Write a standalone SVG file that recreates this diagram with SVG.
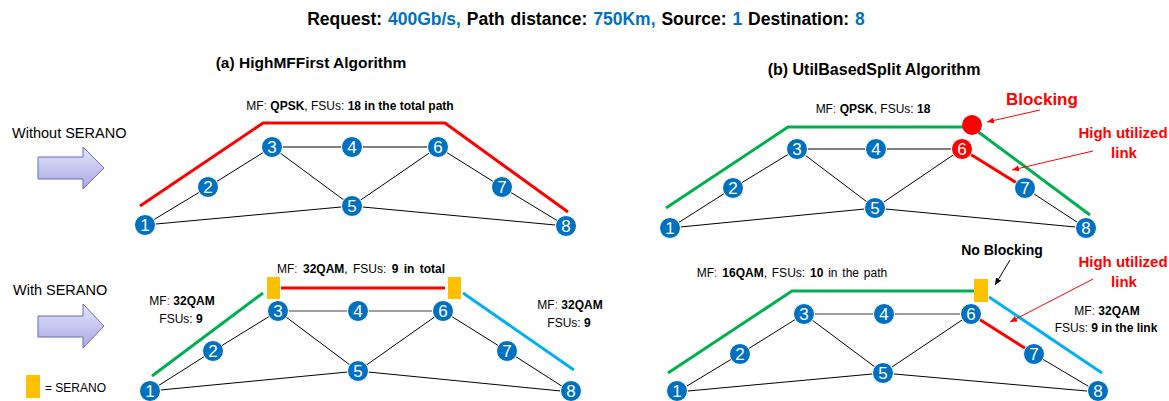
<svg xmlns="http://www.w3.org/2000/svg" width="1169" height="401" viewBox="0 0 1169 401">
<style>
text{font-family:"Liberation Sans",Arial,sans-serif;fill:#000}
.b{font-weight:bold}
.blue{fill:#0070c0}
.red{fill:#ff0000}
.t12{font-size:12px}
.edge{stroke:#000;stroke-width:1;fill:none}
.gray{stroke:#7f7f7f;stroke-width:1.5;fill:none}
.nd circle{fill:#0070c0;stroke:#fff;stroke-width:1}
.nd text{fill:#fff;font-size:17px;text-anchor:middle}
.pr{stroke:#ff0000;stroke-width:3;fill:none}
.pg{stroke:#00b050;stroke-width:3;fill:none}
.pb{stroke:#00b0f0;stroke-width:3;fill:none}
.ser{fill:#ffc000}
.mid{text-anchor:middle}
</style>
<defs>
<linearGradient id="ag" x1="0" y1="0" x2="0" y2="1">
<stop offset="0" stop-color="#e4e4fa"/>
<stop offset="1" stop-color="#a9a9e3"/>
</linearGradient>
<marker id="mr" markerWidth="8" markerHeight="8" refX="7" refY="4" orient="auto" markerUnits="userSpaceOnUse">
<path d="M0,1 L7,4 L0,7 z" fill="#ff0000"/>
</marker>
<marker id="mk" markerWidth="8" markerHeight="8" refX="7" refY="4" orient="auto" markerUnits="userSpaceOnUse">
<path d="M0,1 L7,4 L0,7 z" fill="#000"/>
</marker>
</defs>

<g id="titles">
<text x="586" y="25" class="b mid" font-size="17.5" word-spacing="1">Request: <tspan class="blue">400Gb/s,</tspan> Path distance: <tspan class="blue">750Km,</tspan> Source: <tspan class="blue">1</tspan> Destination: <tspan class="blue">8</tspan></text>
<text x="311" y="68" class="b mid" font-size="15.5">(a) HighMFFirst Algorithm</text>
<text x="874" y="75" class="b mid" font-size="16">(b) UtilBasedSplit Algorithm</text>
</g>

<g id="legend">
<text x="12" y="138" font-size="14.5">Without SERANO</text>
<polygon points="38,157 83,157 83,147 104,168 83,189 83,179 38,179" fill="url(#ag)" stroke="#6b6bb8" stroke-width="1"/>
<text x="13" y="295" font-size="14.5">With SERANO</text>
<polygon points="38,316 83,316 83,304 104,326 83,348 83,337 38,337" fill="url(#ag)" stroke="#6b6bb8" stroke-width="1"/>
<rect x="26" y="375" width="14" height="23" class="ser"/>
<text x="45" y="392" class="t12">= SERANO</text>
</g>

<g id="connectors">
<path class="edge" d="M145,225 L208,187 L272,147 L352,147 L438,147 L502,187 L566,226 M272,147 L352,206 L438,147 M145,225 L352,206 L566,226"/>
<path class="edge" d="M150,391 L213,351 L278,311 M443,311 L507,351 L571,392 M278,311 L358,371 L443,311 M150,391 L358,371 L571,392"/>
<path class="gray" d="M278,311 L443,311"/>
<path class="edge" d="M670,228 L733,188 L797,149 L876,149 L962,149 M1025,188 L1086,228 M797,149 L875,208 L962,149 M670,228 L875,208 L1086,228"/>
<path class="edge" d="M677,392 L740,354 L804,314 M1034,354 L1098,392 M804,314 L883,373 L971,314 M677,392 L883,373 L1098,392"/>
<path class="gray" d="M804,314 L971,314"/>

<path class="pr" d="M140,206 L263,123 L445,123 L568,212"/>
<path class="pg" d="M152,376 L263,293"/>
<path class="pr" d="M281,288 L445,288"/>
<path class="pb" d="M463,293 L574,370"/>
<path class="pg" d="M666,208 L788,127 L966,127"/>
<path class="pg" d="M977,131 L1090,215"/>
<path class="pr" d="M962,149 L1025,188"/>
<path class="pg" d="M668,373 L792,291 L975,291"/>
<path class="pb" d="M989,297 L1102,373"/>
<path class="pr" d="M971,314 L1034,354"/>

<line x1="1040" y1="110" x2="987" y2="122" stroke="#ff0000" stroke-width="1" marker-end="url(#mr)"/>
<line x1="1093" y1="151" x2="1012" y2="170" stroke="#ff0000" stroke-width="1" marker-end="url(#mr)"/>
<line x1="1010" y1="260" x2="995" y2="285" stroke="#000" stroke-width="1" marker-end="url(#mk)"/>
<line x1="1093" y1="279" x2="1010" y2="322" stroke="#ff0000" stroke-width="1" marker-end="url(#mr)"/>
</g>

<g id="serano">
<rect x="267" y="277" width="13" height="22" class="ser"/>
<rect x="448" y="277" width="13" height="22" class="ser"/>
<rect x="974" y="279" width="14" height="23" class="ser"/>
<circle id="blocking-point" cx="972" cy="125" r="10" fill="#ff0000"/>
</g>

<g id="labels">
<text x="350" y="110" class="t12 mid">MF<tspan class="red">:</tspan> <tspan class="b">QPSK</tspan>, FSUs: <tspan class="b">18 in the total path</tspan></text>
<text x="361" y="273" class="t12 mid" word-spacing="2">MF<tspan class="red">:</tspan> <tspan class="b">32QAM</tspan>, FSUs: <tspan class="b">9 in total</tspan></text>
<text x="182" y="305" class="t12 mid">MF<tspan class="red">:</tspan> <tspan class="b">32QAM</tspan></text>
<text x="181" y="323" class="t12 mid">FSUs: <tspan class="b">9</tspan></text>
<text x="570" y="309" class="t12 mid">MF<tspan class="red">:</tspan> <tspan class="b">32QAM</tspan></text>
<text x="569" y="327" class="t12 mid">FSUs: <tspan class="b">9</tspan></text>
<text x="873" y="113" class="t12 mid">MF<tspan class="red">:</tspan> <tspan class="b">QPSK</tspan>, FSUs: <tspan class="b">18</tspan></text>
<text x="1042" y="105" class="b mid red" font-size="17">Blocking</text>
<text x="1123" y="138" class="b mid red" font-size="15">High utilized</text>
<text x="1124" y="158" class="b mid red" font-size="15">link</text>
<text x="792" y="277" class="t12 mid" word-spacing="1.5">MF<tspan class="red">:</tspan> <tspan class="b">16QAM</tspan>, FSUs: <tspan class="b">10</tspan> in the path</text>
<text x="1002" y="255" class="b mid" font-size="14">No Blocking</text>
<text x="1123" y="267" class="b mid red" font-size="15">High utilized</text>
<text x="1124" y="287" class="b mid red" font-size="15">link</text>
<text x="1107" y="315" class="t12 mid">MF<tspan class="red">:</tspan> <tspan class="b">32QAM</tspan></text>
<text x="1106" y="332" class="t12 mid">FSUs: <tspan class="b">9 in the link</tspan></text>
</g>

<g id="net-a-top">
<g id="a1-n1" class="nd"><circle cx="145" cy="225" r="10.5"/><text x="145" y="231">1</text></g>
<g id="a1-n2" class="nd"><circle cx="208" cy="187" r="10.5"/><text x="208" y="193">2</text></g>
<g id="a1-n3" class="nd"><circle cx="272" cy="147" r="10.5"/><text x="272" y="153">3</text></g>
<g id="a1-n4" class="nd"><circle cx="352" cy="147" r="10.5"/><text x="352" y="153">4</text></g>
<g id="a1-n5" class="nd"><circle cx="352" cy="206" r="10.5"/><text x="352" y="212">5</text></g>
<g id="a1-n6" class="nd"><circle cx="438" cy="147" r="10.5"/><text x="438" y="153">6</text></g>
<g id="a1-n7" class="nd"><circle cx="502" cy="187" r="10.5"/><text x="502" y="193">7</text></g>
<g id="a1-n8" class="nd"><circle cx="566" cy="226" r="10.5"/><text x="566" y="232">8</text></g>
</g>

<g id="net-a-bottom">
<g id="a2-n1" class="nd"><circle cx="150" cy="391" r="10.5"/><text x="150" y="397">1</text></g>
<g id="a2-n2" class="nd"><circle cx="213" cy="351" r="10.5"/><text x="213" y="357">2</text></g>
<g id="a2-n3" class="nd"><circle cx="278" cy="311" r="10.5"/><text x="278" y="317">3</text></g>
<g id="a2-n4" class="nd"><circle cx="358" cy="311" r="10.5"/><text x="358" y="317">4</text></g>
<g id="a2-n5" class="nd"><circle cx="358" cy="371" r="10.5"/><text x="358" y="377">5</text></g>
<g id="a2-n6" class="nd"><circle cx="443" cy="311" r="10.5"/><text x="443" y="317">6</text></g>
<g id="a2-n7" class="nd"><circle cx="507" cy="351" r="10.5"/><text x="507" y="357">7</text></g>
<g id="a2-n8" class="nd"><circle cx="571" cy="391" r="10.5"/><text x="571" y="397">8</text></g>
</g>

<g id="net-b-top">
<g id="b1-n1" class="nd"><circle cx="670" cy="228" r="10.5"/><text x="670" y="234">1</text></g>
<g id="b1-n2" class="nd"><circle cx="733" cy="188" r="10.5"/><text x="733" y="194">2</text></g>
<g id="b1-n3" class="nd"><circle cx="797" cy="149" r="10.5"/><text x="797" y="155">3</text></g>
<g id="b1-n4" class="nd"><circle cx="876" cy="149" r="10.5"/><text x="876" y="155">4</text></g>
<g id="b1-n5" class="nd"><circle cx="875" cy="208" r="10.5"/><text x="875" y="214">5</text></g>
<g id="b1-n6" class="nd"><circle cx="962" cy="149" r="10.5" style="fill:#ff0000"/><text x="962" y="155">6</text></g>
<g id="b1-n7" class="nd"><circle cx="1025" cy="188" r="10.5"/><text x="1025" y="194">7</text></g>
<g id="b1-n8" class="nd"><circle cx="1086" cy="228" r="10.5"/><text x="1086" y="234">8</text></g>
</g>

<g id="net-b-bottom">
<g id="b2-n1" class="nd"><circle cx="677" cy="391" r="10.5"/><text x="677" y="396.5">1</text></g>
<g id="b2-n2" class="nd"><circle cx="740" cy="354" r="10.5"/><text x="740" y="360">2</text></g>
<g id="b2-n3" class="nd"><circle cx="804" cy="314" r="10.5"/><text x="804" y="320">3</text></g>
<g id="b2-n4" class="nd"><circle cx="884" cy="314" r="10.5"/><text x="884" y="320">4</text></g>
<g id="b2-n5" class="nd"><circle cx="883" cy="373" r="10.5"/><text x="883" y="379">5</text></g>
<g id="b2-n6" class="nd"><circle cx="971" cy="314" r="10.5"/><text x="971" y="320">6</text></g>
<g id="b2-n7" class="nd"><circle cx="1034" cy="354" r="10.5"/><text x="1034" y="360">7</text></g>
<g id="b2-n8" class="nd"><circle cx="1098" cy="391" r="10.5"/><text x="1098" y="396.5">8</text></g>
</g>
</svg>
